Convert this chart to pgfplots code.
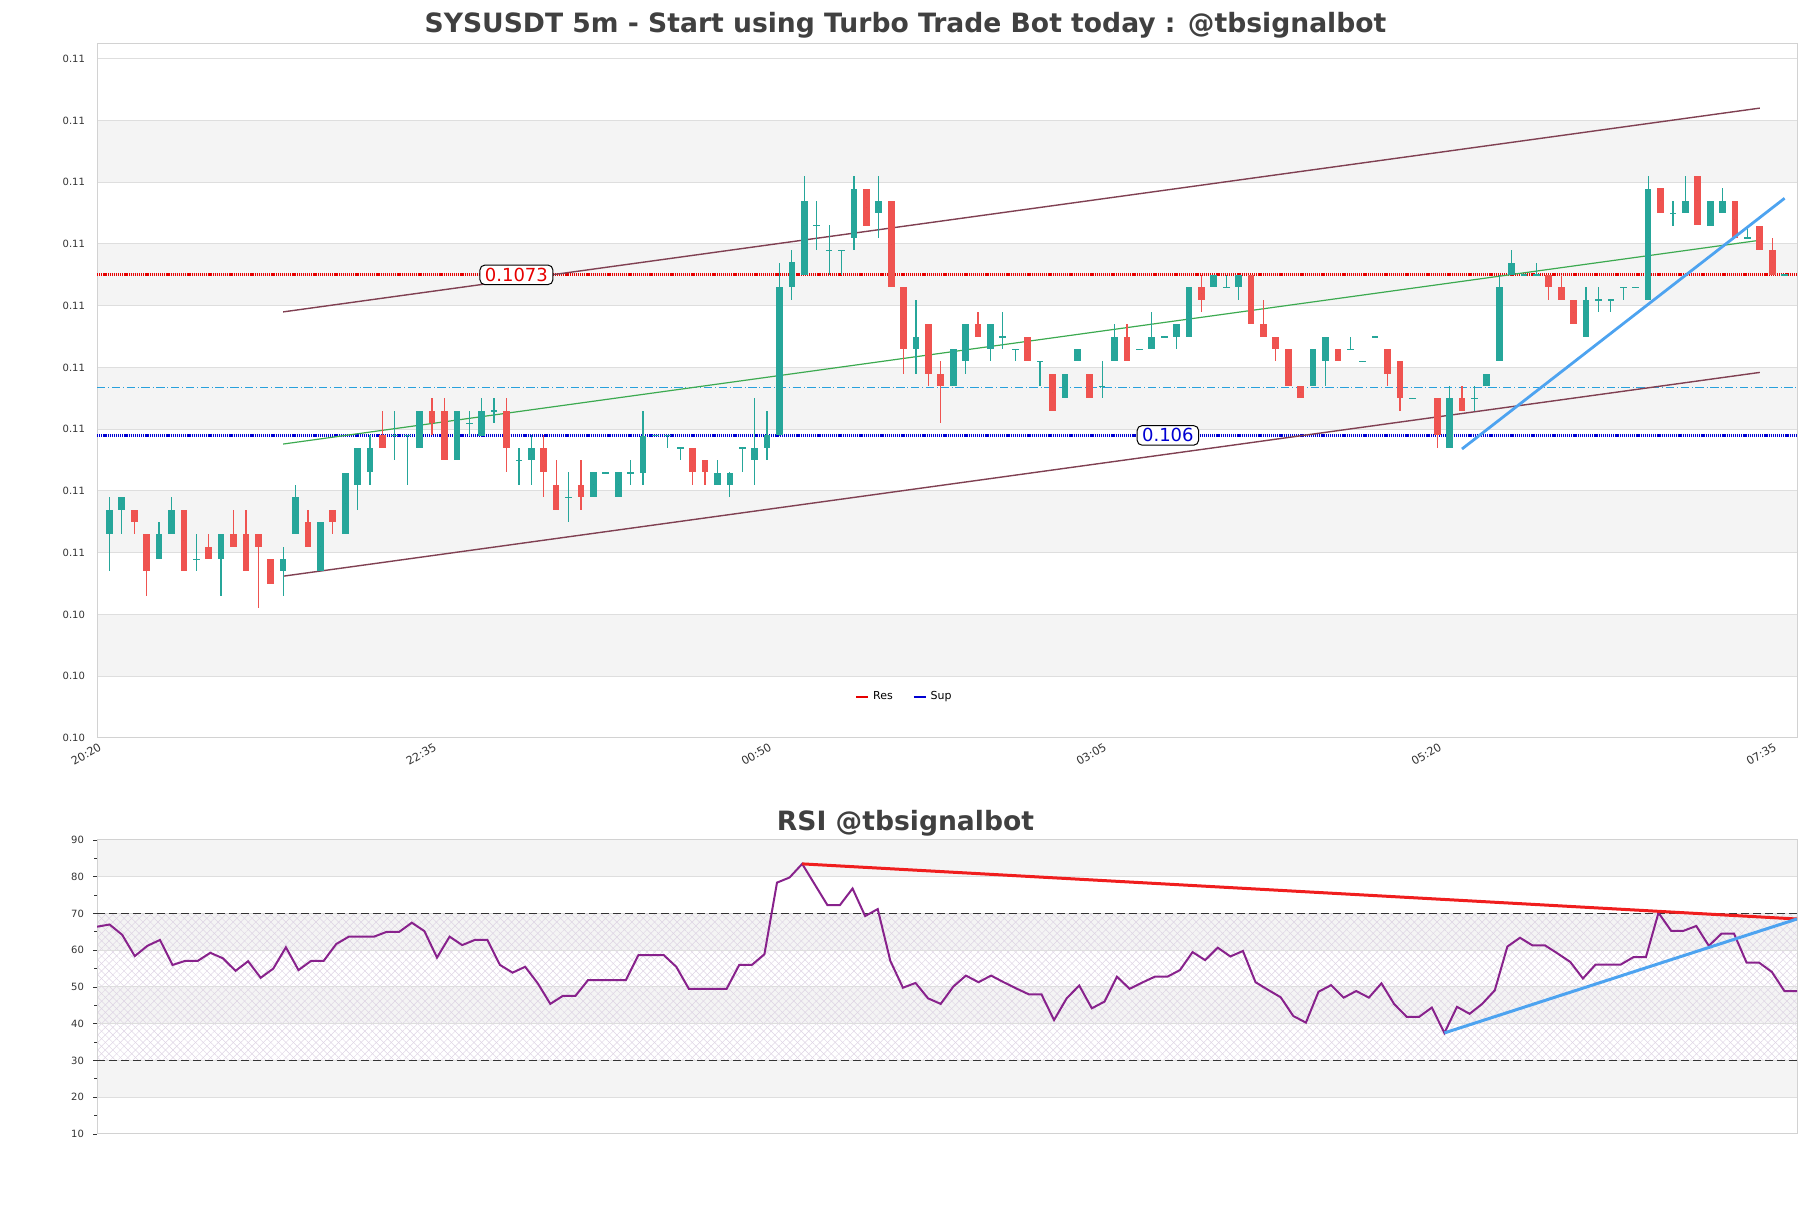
\documentclass[border=0pt]{standalone}
\usepackage{fontspec}
\setmainfont{DejaVu Sans}
\usepackage{pgfplots}
\usepackage{pgfplotstable}
\pgfplotsset{compat=1.18}
\usetikzlibrary{patterns.meta}

\definecolor{UpTeal}{RGB}{38,166,154}
\definecolor{DownRed}{RGB}{239,83,80}
\definecolor{Band}{RGB}{244,244,244}
\definecolor{GridGray}{RGB}{222,222,222}
\definecolor{SpineGray}{RGB}{210,210,210}
\definecolor{TitleGray}{RGB}{64,64,64}
\definecolor{TickGray}{RGB}{51,51,51}
\definecolor{ResRed}{RGB}{230,0,0}
\definecolor{SupBlue}{RGB}{0,0,210}
\definecolor{MidBlue}{RGB}{40,160,220}
\definecolor{Channel}{RGB}{128,64,82}
\definecolor{MidGreen}{RGB}{60,170,80}
\definecolor{TrendBlue}{RGB}{77,163,240}
\definecolor{TrendRed}{RGB}{240,30,30}
\definecolor{RsiPurple}{RGB}{136,34,140}
\definecolor{Hatch}{RGB}{222,212,228}

% candles: k open high low close (5m bars from 20:20)
\pgfplotstableread{
k o h l c
1 0.1052 0.1055 0.1049 0.1054
2 0.1054 0.1055 0.1052 0.1055
5 0.1050 0.1053 0.1050 0.1052
6 0.1052 0.1055 0.1052 0.1054
8 0.1050 0.1052 0.1049 0.1050
10 0.1050 0.1052 0.1047 0.1052
15 0.1049 0.1051 0.1047 0.1050
16 0.1052 0.1056 0.1052 0.1055
18 0.1049 0.1053 0.1049 0.1053
20 0.1052 0.1057 0.1052 0.1057
21 0.1056 0.1059 0.1054 0.1059
22 0.1057 0.1060 0.1056 0.1059
24 0.1060 0.1062 0.1058 0.1060
25 0.1060 0.1060 0.1056 0.1060
26 0.1059 0.1062 0.1059 0.1062
29 0.1058 0.1062 0.1058 0.1062
30 0.1061 0.1062 0.1060 0.1061
31 0.1060 0.1063 0.1060 0.1062
32 0.1062 0.1063 0.1061 0.1062
34 0.1058 0.1059 0.1056 0.1058
35 0.1058 0.1060 0.1056 0.1059
38 0.1055 0.1057 0.1053 0.1055
40 0.1055 0.1057 0.1055 0.1057
41 0.1057 0.1057 0.1057 0.1057
42 0.1055 0.1057 0.1055 0.1057
43 0.1057 0.1058 0.1056 0.1057
44 0.1057 0.1062 0.1056 0.1060
45 0.1060 0.1060 0.1060 0.1060
46 0.1060 0.1060 0.1059 0.1060
47 0.1059 0.1059 0.1058 0.1059
50 0.1056 0.1058 0.1056 0.1057
51 0.1056 0.1057 0.1055 0.1057
52 0.1059 0.1059 0.1057 0.1059
53 0.1058 0.1063 0.1056 0.1059
54 0.1059 0.1062 0.1058 0.1060
55 0.1060 0.1074 0.1060 0.1072
56 0.1072 0.1075 0.1071 0.1074
57 0.1073 0.1081 0.1073 0.1079
58 0.1077 0.1079 0.1075 0.1077
59 0.1075 0.1077 0.1073 0.1075
60 0.1075 0.1075 0.1073 0.1075
61 0.1076 0.1081 0.1075 0.1080
63 0.1078 0.1081 0.1076 0.1079
66 0.1067 0.1071 0.1065 0.1068
69 0.1064 0.1067 0.1064 0.1067
70 0.1066 0.1069 0.1065 0.1069
72 0.1067 0.1069 0.1066 0.1069
73 0.1068 0.1070 0.1067 0.1068
74 0.1067 0.1067 0.1066 0.1067
76 0.1066 0.1066 0.1064 0.1066
78 0.1063 0.1065 0.1063 0.1065
79 0.1066 0.1067 0.1066 0.1067
81 0.1064 0.1066 0.1063 0.1064
82 0.1066 0.1069 0.1066 0.1068
84 0.1067 0.1067 0.1067 0.1067
85 0.1067 0.1070 0.1067 0.1068
86 0.1068 0.1068 0.1068 0.1068
87 0.1068 0.1069 0.1067 0.1069
88 0.1068 0.1072 0.1068 0.1072
90 0.1072 0.1073 0.1072 0.1073
91 0.1072 0.1073 0.1072 0.1072
92 0.1072 0.1073 0.1071 0.1073
98 0.1064 0.1067 0.1064 0.1067
99 0.1066 0.1068 0.1064 0.1068
101 0.1067 0.1068 0.1067 0.1067
102 0.1066 0.1066 0.1066 0.1066
103 0.1068 0.1068 0.1068 0.1068
106 0.1063 0.1063 0.1063 0.1063
109 0.1059 0.1064 0.1059 0.1063
111 0.1063 0.1064 0.1062 0.1063
112 0.1064 0.1065 0.1064 0.1065
113 0.1066 0.1073 0.1066 0.1072
114 0.1073 0.1075 0.1073 0.1074
115 0.1073 0.1073 0.1073 0.1073
116 0.1073 0.1074 0.1073 0.1073
120 0.1068 0.1072 0.1068 0.1071
121 0.1071 0.1072 0.1070 0.1071
122 0.1071 0.1071 0.1070 0.1071
123 0.1072 0.1072 0.1071 0.1072
124 0.1072 0.1072 0.1072 0.1072
125 0.1071 0.1081 0.1071 0.1080
127 0.1078 0.1079 0.1077 0.1078
128 0.1078 0.1081 0.1078 0.1079
130 0.1077 0.1079 0.1077 0.1079
131 0.1078 0.1080 0.1078 0.1079
133 0.1076 0.1077 0.1076 0.1076
136 0.1073 0.1073 0.1073 0.1073
}\upcandles

\pgfplotstableread{
k o h l c
3 0.1054 0.1054 0.1052 0.1053
4 0.1052 0.1052 0.1047 0.1049
7 0.1054 0.1054 0.1049 0.1049
9 0.1051 0.1052 0.1050 0.1050
11 0.1052 0.1054 0.1051 0.1051
12 0.1052 0.1054 0.1049 0.1049
13 0.1052 0.1052 0.1046 0.1051
14 0.1050 0.1050 0.1048 0.1048
17 0.1053 0.1054 0.1051 0.1051
19 0.1054 0.1054 0.1052 0.1053
23 0.1060 0.1062 0.1059 0.1059
27 0.1062 0.1063 0.1060 0.1061
28 0.1062 0.1063 0.1058 0.1058
33 0.1062 0.1063 0.1057 0.1059
36 0.1059 0.1060 0.1055 0.1057
37 0.1056 0.1058 0.1054 0.1054
39 0.1056 0.1058 0.1054 0.1055
48 0.1059 0.1059 0.1056 0.1057
49 0.1058 0.1058 0.1056 0.1057
62 0.1080 0.1080 0.1077 0.1077
64 0.1079 0.1079 0.1072 0.1072
65 0.1072 0.1072 0.1065 0.1067
67 0.1069 0.1069 0.1064 0.1065
68 0.1065 0.1066 0.1061 0.1064
71 0.1069 0.1070 0.1068 0.1068
75 0.1068 0.1068 0.1066 0.1066
77 0.1065 0.1065 0.1062 0.1062
80 0.1065 0.1065 0.1063 0.1063
83 0.1068 0.1069 0.1066 0.1066
89 0.1072 0.1073 0.1070 0.1071
93 0.1073 0.1073 0.1069 0.1069
94 0.1069 0.1071 0.1068 0.1068
95 0.1068 0.1068 0.1066 0.1067
96 0.1067 0.1067 0.1064 0.1064
97 0.1064 0.1064 0.1063 0.1063
100 0.1067 0.1067 0.1066 0.1066
104 0.1067 0.1067 0.1064 0.1065
105 0.1066 0.1066 0.1062 0.1063
108 0.1063 0.1063 0.1059 0.1060
110 0.1063 0.1064 0.1062 0.1062
117 0.1073 0.1073 0.1071 0.1072
118 0.1072 0.1073 0.1071 0.1071
119 0.1071 0.1071 0.1069 0.1069
126 0.1080 0.1080 0.1078 0.1078
129 0.1081 0.1081 0.1077 0.1077
132 0.1079 0.1079 0.1076 0.1076
134 0.1077 0.1077 0.1075 0.1075
135 0.1075 0.1076 0.1073 0.1073
}\downcandles

\pgfplotstableread{
j v
0 66.4
1 67.0
2 64.2
3 58.4
4 61.2
5 62.8
6 56.0
7 57.1
8 57.1
9 59.3
10 57.8
11 54.4
12 57.0
13 52.5
14 55.0
15 60.8
16 54.6
17 57.1
18 57.1
19 61.7
20 63.7
21 63.7
22 63.7
23 65.0
24 65.0
25 67.5
26 65.2
27 58.0
28 63.7
29 61.4
30 62.8
31 62.8
32 56.0
33 53.9
34 55.5
35 51.0
36 45.4
37 47.6
38 47.6
39 51.9
40 51.9
41 51.9
42 51.9
43 58.7
44 58.7
45 58.7
46 55.5
47 49.5
48 49.5
49 49.5
50 49.5
51 56.0
52 56.0
53 58.9
54 78.4
55 79.8
56 83.5
57 77.9
58 72.3
59 72.3
60 76.8
61 69.3
62 71.2
63 57.1
64 49.8
65 51.1
66 46.9
67 45.4
68 50.1
69 53.1
70 51.3
71 53.1
72 51.3
73 49.6
74 48.0
75 48.0
76 41.0
77 46.9
78 50.4
79 44.2
80 46.0
81 52.8
82 49.5
83 51.2
84 52.8
85 52.8
86 54.6
87 59.5
88 57.3
89 60.7
90 58.3
91 59.8
92 51.3
93 49.2
94 47.2
95 42.1
96 40.3
97 48.7
98 50.5
99 47.1
100 48.9
101 47.1
102 51.0
103 45.4
104 41.9
105 41.9
106 44.4
107 37.5
108 44.6
109 42.7
110 45.4
111 49.1
112 61.0
113 63.4
114 61.3
115 61.3
116 59.1
117 56.8
118 52.3
119 56.1
120 56.1
121 56.1
122 58.1
123 58.1
124 70.2
125 65.3
126 65.3
127 66.6
128 61.2
129 64.5
130 64.5
131 56.6
132 56.6
133 54.1
134 48.9
135 48.9
}\rsi

\pgfplotsset{
  chartbase/.style={
    scale only axis,
    width=850pt,
    xmin=0,
    set layers,
    axis line style={draw=SpineGray, line width=0.5pt},
    ymajorgrids,
    grid style={draw=GridGray, line width=0.5pt},
    tick label style={font=\fontsize{5}{6}\selectfont, text=TickGray},
    /pgf/number format/assume math mode=true,
    scaled y ticks=false,
  },
  band/.style={forget plot, on layer=axis background, draw=none, fill=Band},
  wick/.style={forget plot, only marks, mark=*, mark size=0pt,
    mark options={draw=none, fill=none},
    error bars/.cd, y dir=both, y explicit, error mark=none,
    error bar style={line width=0.6pt, draw=#1}},
  body/.style={forget plot, only marks, mark=*, mark size=0pt,
    mark options={draw=none, fill=none},
    error bars/.cd, y dir=both, y explicit, error mark=none,
    error bar style={line width=3.35pt, draw=#1}},
}

\begin{document}
\begin{tikzpicture}
\path (0pt,0pt) rectangle (905.5pt,604pt);

\node[anchor=base, text=TitleGray, font=\bfseries\fontsize{13.3}{15}\selectfont]
  at (452.75pt,587.8pt) {SYSUSDT 5m - Start using Turbo Trade Bot today : @tbsignalbot};
\node[anchor=base, text=TitleGray, font=\bfseries\fontsize{13.3}{15}\selectfont]
  at (452.75pt,188.8pt) {RSI @tbsignalbot};

% price panel
\begin{axis}[
    chartbase,
    at={(48.5pt,235pt)}, anchor=south west,
    height=347.35pt,
    xmax=137,
    ymin=0.10355, ymax=0.109175,
    ytick={0.10355,0.10405,0.10455,0.10505,0.10555,0.10605,0.10655,0.10705,0.10755,0.10805,0.10855,0.10905},
    yticklabels={0.10,0.10,0.10,0.11,0.11,0.11,0.11,0.11,0.11,0.11,0.11,0.11},
    yticklabel style={xshift=-2.5pt},
    xtick={0,27,54,81,108,135},
    xticklabels={20:20,22:35,00:50,03:05,05:20,07:35},
    xticklabel style={rotate=30, anchor=north east, inner sep=0.5pt, yshift=-1.5pt,
      font=\fontsize{5.6}{6.5}\selectfont},
    major tick length=0pt,
    legend columns=2,
    legend style={at={(0.4756,0.0585)}, anchor=center, draw=none, fill=none,
      font=\fontsize{5.5}{6.5}\selectfont,
      /tikz/every even column/.append style={column sep=8pt}},
    legend image code/.code={\draw[#1, solid, line width=0.9pt] (0pt,0pt) -- (6pt,0pt);},
]
\addplot[band] coordinates {(0,0.10405) (137,0.10405) (137,0.10455) (0,0.10455)} -- cycle;
\addplot[band] coordinates {(0,0.10505) (137,0.10505) (137,0.10555) (0,0.10555)} -- cycle;
\addplot[band] coordinates {(0,0.10605) (137,0.10605) (137,0.10655) (0,0.10655)} -- cycle;
\addplot[band] coordinates {(0,0.10705) (137,0.10705) (137,0.10755) (0,0.10755)} -- cycle;
\addplot[band] coordinates {(0,0.10805) (137,0.10805) (137,0.10855) (0,0.10855)} -- cycle;

\addplot[ResRed, line width=1.4pt, dash pattern=on 0.6pt off 0.45pt] coordinates {(0,0.1073) (137,0.1073)};
\addlegendentry{Res}
\addplot[SupBlue, line width=1.4pt, dash pattern=on 0.6pt off 0.45pt] coordinates {(0,0.1060) (137,0.1060)};
\addlegendentry{Sup}

\addplot[forget plot, MidBlue, line width=0.6pt, dash pattern=on 4.2pt off 1.4pt on 0.4pt off 1.4pt]
  coordinates {(0,0.10639) (137,0.10639)};
\addplot[forget plot, Channel, line width=0.7pt] coordinates {(15,0.1070) (134,0.10865)};
\addplot[forget plot, Channel, line width=0.7pt] coordinates {(15,0.10486) (134,0.10651)};
\addplot[forget plot, MidGreen, line width=0.6pt] coordinates {(15,0.10593) (134,0.10758)};

\addplot[wick=UpTeal] table[x=k, y expr={(\thisrow{h}+\thisrow{l})/2}, y error expr={(\thisrow{h}-\thisrow{l})/2}] {\upcandles};
\addplot[body=UpTeal] table[x=k, y expr={(\thisrow{o}+\thisrow{c})/2}, y error expr={max(abs(\thisrow{c}-\thisrow{o})/2,0.000004)}] {\upcandles};
\addplot[wick=DownRed] table[x=k, y expr={(\thisrow{h}+\thisrow{l})/2}, y error expr={(\thisrow{h}-\thisrow{l})/2}] {\downcandles};
\addplot[body=DownRed] table[x=k, y expr={(\thisrow{o}+\thisrow{c})/2}, y error expr={max(abs(\thisrow{c}-\thisrow{o})/2,0.000004)}] {\downcandles};

\addplot[forget plot, TrendBlue, line width=1.4pt] coordinates {(110,0.10589) (136,0.10792)};

\node[draw=black, fill=white, rounded corners=2.5pt, line width=0.5pt, inner xsep=2.5pt, inner ysep=1.5pt,
  text=ResRed, font=\fontsize{9}{10}\selectfont] at (axis cs:33.8,0.1073) {0.1073};
\node[draw=black, fill=white, rounded corners=2.5pt, line width=0.5pt, inner xsep=2.5pt, inner ysep=1.5pt,
  text=SupBlue, font=\fontsize{9}{10}\selectfont] at (axis cs:86.3,0.1060) {0.106};
\end{axis}

% RSI panel
\begin{axis}[
    chartbase,
    at={(48.5pt,37pt)}, anchor=south west,
    height=147pt,
    xmax=135,
    ymin=10, ymax=90,
    ytick={10,20,...,90},
    minor y tick num=1,
    xtick=\empty,
    ytick pos=left,
    tick align=outside,
    major tick length=2pt,
    minor tick length=1.3pt,
    tick style={draw=TickGray, line width=0.4pt},
    yticklabel style={xshift=-1pt},
]
\addplot[band] coordinates {(0,80) (135,80) (135,90) (0,90)} -- cycle;
\addplot[band] coordinates {(0,60) (135,60) (135,70) (0,70)} -- cycle;
\addplot[band] coordinates {(0,40) (135,40) (135,50) (0,50)} -- cycle;
\addplot[band] coordinates {(0,20) (135,20) (135,30) (0,30)} -- cycle;
\addplot[forget plot, on layer=axis background, draw=none,
  pattern={Lines[angle=45, distance=2.66pt, line width=0.25pt]}, pattern color=Hatch]
  coordinates {(0,30) (135,30) (135,70) (0,70)} -- cycle;
\addplot[forget plot, on layer=axis background, draw=none,
  pattern={Lines[angle=-45, distance=2.66pt, line width=0.25pt]}, pattern color=Hatch]
  coordinates {(0,30) (135,30) (135,70) (0,70)} -- cycle;

\addplot[forget plot, black!80, line width=0.6pt, dash pattern=on 4pt off 2pt] coordinates {(0,70) (135,70)};
\addplot[forget plot, black!80, line width=0.6pt, dash pattern=on 4pt off 2pt] coordinates {(0,30) (135,30)};

\addplot[forget plot, RsiPurple, line width=1pt] table[x=j, y=v] {\rsi};

\addplot[forget plot, TrendRed, line width=1.5pt] coordinates {(56,83.5) (135,68.5)};
\addplot[forget plot, TrendBlue, line width=1.5pt] coordinates {(107,37.5) (135,68.5)};
\end{axis}
\end{tikzpicture}
\end{document}
